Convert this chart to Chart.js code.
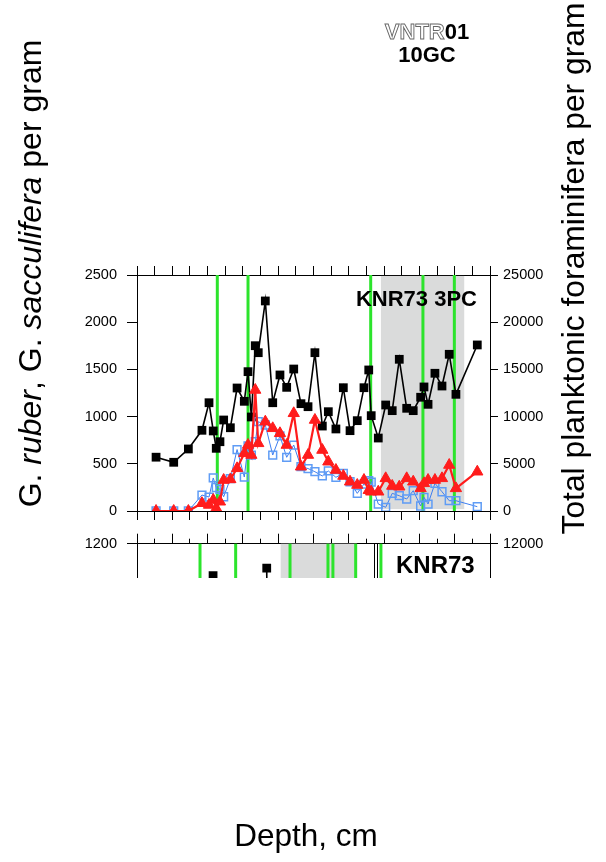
<!DOCTYPE html>
<html>
<head>
<meta charset="utf-8">
<script src="https://cdn.jsdelivr.net/npm/chart.js@4.4.0/dist/chart.umd.min.js"></script>
<style>
  html, body { margin: 0; padding: 0; background: #fff; }
  #wrap { position: relative; width: 606px; height: 862px; overflow: hidden; }
  #upper { position: absolute; left: 0; top: 0; }
  #lowClip { position: absolute; left: 0; top: 525px; width: 606px; height: 53px; overflow: hidden; }
  #lower { position: absolute; left: 0; top: 0; }
</style>
</head>
<body>
<div id="wrap">
  <canvas id="upper" width="606" height="862"></canvas>
  <div id="lowClip"><canvas id="lower" width="606" height="300"></canvas></div>
</div>
<script>
// depth in arbitrary units along the x axis (no tick labels on the figure)
const depths = [10.8, 20.8, 29.1, 36.8, 40.8, 43.2, 44.9, 47.0, 49.1, 52.9, 56.7, 60.8, 62.9, 64.8, 67.0, 68.7,
  72.7, 76.9, 81.0, 84.8, 88.8, 92.9, 96.9, 100.8, 105.0, 108.4, 112.7, 116.9, 120.7, 124.8, 128.6, 131.3,
  132.7, 136.7, 140.9, 144.6, 148.6, 152.8, 156.5, 160.7, 162.6, 164.9, 168.8, 172.8, 176.9, 180.7, 192.8];

// black squares, right axis
const totalPlanktonic = [5700, 5160, 6570, 8550, 11470, 8480, 6640, 7340, 9640, 8820, 13030, 11620, 14760, 9960, 17510, 16770,
  22250, 11470, 14410, 13100, 15040, 11370, 11050, 16770, 9000, 10520, 8690, 13060, 8510, 9570, 13060, 14940,
  10100, 7730, 11230, 10630, 16070, 10880, 10630, 12050, 13140, 11300, 14590, 13240, 16600, 12360, 17590];

// red filled triangles, left axis
const ruberPerGram = [0, 0, 0, 82, 64, 117, 29, 98, 328, 335, 452, 611, 699, 593, 1282, 717,
  946, 876, 823, 699, 1035, 469, 593, 964, 646, 522, 434, 371, 310, 275, 328, 220,
  204, 204, 346, 265, 257, 346, 310, 240, 293, 328, 328, 346, 487, 240, 416];

// blue open squares, left axis
const sacculiferaPerGram = [0, 0, 0, 169, 148, 350, 249, 230, 151, 342, 651, 360, 689, 593, 734, 946,
  911, 593, 795, 569, 699, 469, 450, 416, 371, 424, 357, 399, 310, 187, 286, 321,
  307, 74, 39, 187, 162, 127, 215, 53, 145, 74, 293, 204, 109, 109, 46];

const upperGreen = [45.5, 62.9, 132.4, 162.0, 179.8];
const upperShade = [[138.2, 185.4]];

// lower panel (KNR73), only its top strip is visible
const lowerDepths = [43.1, 60, 73.5, 73.8];
const lowerTotals = [10500, null, 10850, 7000];
const lowerGreen = [35.7, 55.9, 86.7, 108.2, 111.0, 123.9, 138.2];
const lowerShade = [[81.4, 124.5]];
const lowerRules = [134.4, 136.1];

const FONT = '"Liberation Sans", Arial, Helvetica, sans-serif';
const GREEN = 'rgb(44,228,44)';
const GREY = 'rgb(218,219,219)';

function pts(xs, ys) {
  return xs.map((x, i) => ({ x: x, y: ys[i] }));
}

function bands(id, shades, greens, rules, yLo, yHi) {
  return {
    id: id,
    beforeDatasetsDraw(chart) {
      const { ctx, chartArea, scales } = chart;
      const x = scales.x;
      const top = yHi == null ? chartArea.top : scales.y.getPixelForValue(yHi);
      const bottom = yLo == null ? chartArea.bottom : scales.y.getPixelForValue(yLo);
      ctx.save();
      ctx.fillStyle = GREY;
      shades.forEach(s => {
        const a = x.getPixelForValue(s[0]), b = x.getPixelForValue(s[1]);
        ctx.fillRect(a, top, b - a, bottom - top);
      });
      ctx.strokeStyle = GREEN;
      ctx.lineWidth = 3;
      greens.forEach(d => {
        const p = x.getPixelForValue(d);
        ctx.beginPath(); ctx.moveTo(p, chartArea.top); ctx.lineTo(p, chartArea.bottom); ctx.stroke();
      });
      ctx.strokeStyle = '#000';
      ctx.lineWidth = 1;
      rules.forEach(d => {
        const p = Math.round(x.getPixelForValue(d)) + 0.5;
        ctx.beginPath(); ctx.moveTo(p, chartArea.top); ctx.lineTo(p, chartArea.bottom); ctx.stroke();
      });
      ctx.restore();
    }
  };
}

// page texts drawn on the big canvas
const pageText = {
  id: 'pageText',
  afterDraw(chart) {
    const ctx = chart.ctx;
    ctx.save();
    ctx.fillStyle = '#000';
    ctx.textBaseline = 'alphabetic';

    // left title, mixed italic
    const parts = [['G. ', false], ['ruber', true], [', G. ', false], ['sacculifera', true], [' per gram', false]];
    const fs = 32;
    let total = 0;
    parts.forEach(p => { ctx.font = (p[1] ? 'italic ' : '') + fs + 'px ' + FONT; total += ctx.measureText(p[0]).width; });
    ctx.save();
    ctx.translate(41, 273.5);
    ctx.rotate(-Math.PI / 2);
    ctx.textAlign = 'left';
    let cx = -total / 2;
    parts.forEach(p => {
      ctx.font = (p[1] ? 'italic ' : '') + fs + 'px ' + FONT;
      ctx.fillText(p[0], cx, 0);
      cx += ctx.measureText(p[0]).width;
    });
    ctx.restore();

    // right title
    ctx.save();
    ctx.translate(584, 268.5);
    ctx.rotate(-Math.PI / 2);
    ctx.textAlign = 'center';
    ctx.font = '31.8px ' + FONT;
    ctx.fillText('Total planktonic foraminifera per gram', 0, 0);
    ctx.restore();

    // x title
    ctx.textAlign = 'center';
    ctx.font = '31.5px ' + FONT;
    ctx.fillText('Depth, cm', 306, 846);

    // core name
    ctx.font = 'bold 22px ' + FONT;
    const w1 = ctx.measureText('VNTR').width, w2 = ctx.measureText('01').width;
    const sx = 427 - (w1 + w2) / 2;
    ctx.textAlign = 'left';
    ctx.fillStyle = '#fff';
    ctx.fillText('VNTR', sx, 39);
    ctx.strokeStyle = '#666';
    ctx.lineWidth = 0.9;
    ctx.strokeText('VNTR', sx, 39);
    ctx.fillStyle = '#000';
    ctx.fillText('01', sx + w1, 39);
    ctx.textAlign = 'center';
    ctx.fillText('10GC', 427, 62);

    ctx.font = 'bold 22px ' + FONT;
    ctx.textAlign = 'right';
    ctx.fillText('KNR73 3PC', 477, 306);
    ctx.restore();
  }
};

const lowerText = {
  id: 'lowerText',
  afterDraw(chart) {
    const ctx = chart.ctx;
    ctx.save();
    ctx.fillStyle = '#000';
    ctx.font = 'bold 24px ' + FONT;
    ctx.textAlign = 'left';
    ctx.fillText('KNR73', 396, 48);
    ctx.restore();
  }
};

function xAxis(pos, h, step, tl, showBorder) {
  return {
    type: 'linear', position: pos, min: 0, max: 200,
    ticks: { display: false, stepSize: step },
    grid: { drawOnChartArea: false, drawTicks: true, tickLength: tl, color: '#000', lineWidth: 1 },
    border: { display: showBorder, color: '#000', width: 1 },
    afterFit: s => { s.height = h; }
  };
}

function yAxis(pos, max, step, w, tl, pad) {
  return {
    type: 'linear', position: pos, min: 0, max: max,
    ticks: { stepSize: step, color: '#000', padding: pad, font: { family: FONT, size: 14.5 },
      callback: v => String(v) },
    grid: { drawOnChartArea: false, drawTicks: true, tickLength: tl, color: '#000', lineWidth: 1 },
    border: { color: '#000', width: 1 },
    afterFit: s => { s.width = w; }
  };
}

new Chart(document.getElementById('upper'), {
  type: 'scatter',
  data: {
    datasets: [
      {
        label: 'G. ruber',
        data: pts(depths, ruberPerGram),
        showLine: true, yAxisID: 'y', order: 0,
        borderColor: '#ff1c1c', borderWidth: 2.2,
        pointStyle: 'triangle', pointRadius: 6.5,
        pointBackgroundColor: '#ff1c1c', pointBorderColor: '#ff1c1c', pointBorderWidth: 1
      },
      {
        label: 'G. sacculifera',
        data: pts(depths, sacculiferaPerGram),
        showLine: true, yAxisID: 'y', order: 1,
        borderColor: '#3d7ef0', borderWidth: 1,
        pointStyle: 'rect', pointRadius: 5.5,
        pointBackgroundColor: 'rgba(255,255,255,0)', pointBorderColor: '#5f9cf5', pointBorderWidth: 1.5
      },
      {
        label: 'Total planktonic foraminifera',
        data: pts(depths, totalPlanktonic),
        showLine: true, yAxisID: 'y2', order: 2,
        borderColor: '#000', borderWidth: 1.6,
        pointStyle: 'rect', pointRadius: 6.2,
        pointBackgroundColor: '#000', pointBorderColor: '#000', pointBorderWidth: 0
      }
    ]
  },
  options: {
    responsive: false,
    animation: false,
    layout: { padding: 0 },
    plugins: { legend: { display: false }, tooltip: { enabled: false } },
    scales: {
      x: xAxis('bottom', 862 - 511, 10, 9, true),
      x2: xAxis('top', 275, 10, 9, true),
      y: yAxis('left', 2500, 500, 137, 10, 10),
      y2: yAxis('right', 25000, 5000, 606 - 490, 8, 5)
    }
  },
  plugins: [bands('upperBands', upperShade, upperGreen, [], 20, 2490), pageText]
});

const lowerScales = {
  x: xAxis('bottom', 26, 10, 9, true),
  xMinor: xAxis('top', 5, 10, 5, true),
  xMajor: xAxis('top', 11, 20, 5, false),
  y: yAxis('left', 1200, 200, 137, 10, 10),
  y2: yAxis('right', 12000, 2000, 606 - 490, 8, 5)
};
lowerScales.xMinor.weight = 0;
lowerScales.xMajor.weight = 1;

new Chart(document.getElementById('lower'), {
  type: 'scatter',
  data: {
    datasets: [{
      label: 'Total planktonic foraminifera',
      data: pts(lowerDepths, lowerTotals),
      showLine: true, spanGaps: false, yAxisID: 'y2',
      borderColor: '#000', borderWidth: 1.6,
      pointStyle: 'rect', pointRadius: 6.2,
      pointBackgroundColor: '#000', pointBorderWidth: 0
    }]
  },
  options: {
    responsive: false,
    animation: false,
    layout: { padding: 0 },
    plugins: { legend: { display: false }, tooltip: { enabled: false } },
    scales: lowerScales
  },
  plugins: [bands('lowerBands', lowerShade, lowerGreen, lowerRules, null, null), lowerText]
});
</script>
</body>
</html>
